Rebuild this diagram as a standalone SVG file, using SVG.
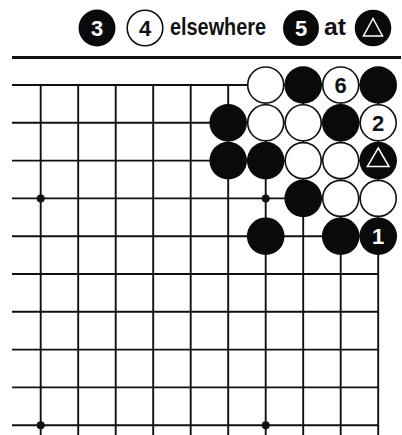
<svg xmlns="http://www.w3.org/2000/svg" width="402" height="435" viewBox="0 0 402 435">
<defs>
<style>
.grid line{stroke:#111;stroke-width:1.9;}
.sep{stroke:#111;stroke-width:3;}
.b{fill:#0a0a0a;}
.w{fill:#fff;stroke:#111;stroke-width:1.6;}
.hoshi{fill:#111;}
.num{font-family:"Liberation Sans",Arial,sans-serif;font-weight:bold;font-size:22px;text-anchor:middle;}
.nb{fill:#fff;}
.nw{fill:#111;}
.cap{font-family:"Liberation Sans",Arial,sans-serif;font-weight:bold;font-size:23px;fill:#111;}
.tri{fill:none;stroke:#fff;stroke-width:1.5;stroke-linejoin:miter;}
</style>
</defs>
<rect width="402" height="435" fill="#fff"/>
<g id="caption">
<g id="cap-3"><circle class="b" cx="97" cy="28" r="18.5"/><text class="num nb" x="97" y="36">3</text></g>
<g id="cap-4"><circle class="w" cx="145" cy="28" r="17.8"/><text class="num nw" x="145" y="36">4</text></g>
<text class="cap" x="170" y="35" textLength="96" lengthAdjust="spacingAndGlyphs">elsewhere</text>
<g id="cap-5"><circle class="b" cx="301" cy="28" r="18"/><text class="num nb" x="301" y="36">5</text></g>
<text class="cap" x="324" y="35" textLength="22" lengthAdjust="spacingAndGlyphs">at</text>
<g id="cap-tri"><circle class="b" cx="373" cy="28" r="18.3"/><polygon class="tri" points="373,18.5 382.5,36 363.5,36"/></g>
</g>
<line class="sep" x1="12" y1="57.5" x2="401" y2="57.5"/>
<g id="board" class="grid">
<line x1="12" y1="85" x2="378.2" y2="85"/>
<line x1="12" y1="122.8" x2="378.2" y2="122.8"/>
<line x1="12" y1="160.6" x2="378.2" y2="160.6"/>
<line x1="12" y1="198.4" x2="378.2" y2="198.4"/>
<line x1="12" y1="236.2" x2="378.2" y2="236.2"/>
<line x1="12" y1="274" x2="378.2" y2="274"/>
<line x1="12" y1="311.8" x2="378.2" y2="311.8"/>
<line x1="12" y1="349.6" x2="378.2" y2="349.6"/>
<line x1="12" y1="387.4" x2="378.2" y2="387.4"/>
<line x1="12" y1="425.2" x2="378.2" y2="425.2"/>
<line x1="40.7" y1="84" x2="40.7" y2="435"/>
<line x1="78.2" y1="84" x2="78.2" y2="435"/>
<line x1="115.7" y1="84" x2="115.7" y2="435"/>
<line x1="153.2" y1="84" x2="153.2" y2="435"/>
<line x1="190.7" y1="84" x2="190.7" y2="435"/>
<line x1="228.2" y1="84" x2="228.2" y2="435"/>
<line x1="265.7" y1="84" x2="265.7" y2="435"/>
<line x1="303.2" y1="84" x2="303.2" y2="435"/>
<line x1="340.7" y1="84" x2="340.7" y2="435"/>
<line x1="378.2" y1="84" x2="378.2" y2="435"/>
</g>
<g id="hoshi">
<circle class="hoshi" cx="40.7" cy="198.4" r="4"/>
<circle class="hoshi" cx="265.7" cy="198.4" r="4"/>
<circle class="hoshi" cx="40.7" cy="425.2" r="4"/>
<circle class="hoshi" cx="265.7" cy="425.2" r="4"/>
</g>
<g id="stones">
<circle class="w" cx="265.7" cy="85" r="18"/>
<circle class="b" cx="303.2" cy="85" r="18.8"/>
<g id="w6"><circle class="w" cx="340.7" cy="85" r="18"/><text class="num nw" x="340.7" y="93">6</text></g>
<circle class="b" cx="378.2" cy="85" r="18.8"/>
<circle class="b" cx="228.2" cy="122.8" r="18.8"/>
<circle class="w" cx="265.7" cy="122.8" r="18"/>
<circle class="w" cx="303.2" cy="122.8" r="18"/>
<circle class="b" cx="340.7" cy="122.8" r="18.8"/>
<g id="w2"><circle class="w" cx="378.2" cy="122.8" r="18"/><text class="num nw" x="378.2" y="130.8">2</text></g>
<circle class="b" cx="228.2" cy="160.6" r="18.8"/>
<circle class="b" cx="265.7" cy="160.6" r="18.8"/>
<circle class="w" cx="303.2" cy="160.6" r="18"/>
<circle class="w" cx="340.7" cy="160.6" r="18"/>
<g id="btri"><circle class="b" cx="378.2" cy="160.6" r="18.8"/><polygon class="tri" points="378.2,148 389,166.5 367.4,166.5"/></g>
<circle class="b" cx="303.2" cy="198.4" r="18.8"/>
<circle class="w" cx="340.7" cy="198.4" r="18"/>
<circle class="w" cx="378.2" cy="198.4" r="18"/>
<circle class="b" cx="265.7" cy="236.2" r="18.8"/>
<circle class="b" cx="340.7" cy="236.2" r="18.8"/>
<g id="b1"><circle class="b" cx="378.2" cy="236.2" r="18.8"/><text class="num nb" x="378.2" y="244.2">1</text></g>
</g>
</svg>
